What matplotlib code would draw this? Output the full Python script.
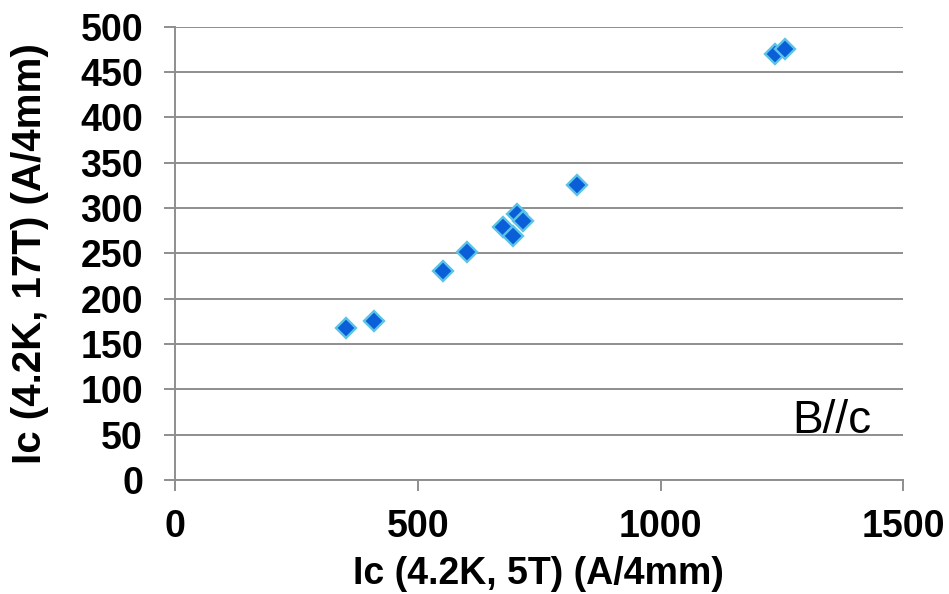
import matplotlib
matplotlib.use("Agg")
import matplotlib.pyplot as plt

# Critical current at 4.2 K: 5 T vs 17 T (B // c)
ic_5t = [352, 410, 552, 602, 675, 695, 705, 716, 827, 1235, 1257]
ic_17t = [168, 175, 230, 251, 279, 269, 293, 286, 325, 470, 475]

x_ticks = [0, 500, 1000, 1500]
y_ticks = list(range(0, 501, 50))

plt.rcParams["font.family"] = ["Liberation Sans", "DejaVu Sans"]

fig = plt.figure(figsize=(9.49, 5.94), dpi=100)
ax = fig.add_axes([175 / 949, 1 - 480 / 594, (903.5 - 175) / 949, (480 - 26.7) / 594])

grid_col = "#8e8e8e"
ax.set_xlim(0, 1500)
ax.set_ylim(0, 500)
ax.set_xticks(x_ticks)
ax.set_yticks(y_ticks)
ax.yaxis.grid(True, color=grid_col, linewidth=1.4)
ax.set_axisbelow(True)

for side in ("top", "right"):
    ax.spines[side].set_visible(False)
for side in ("left", "bottom"):
    ax.spines[side].set_color(grid_col)
    ax.spines[side].set_linewidth(1.4)

ax.tick_params(axis="both", direction="out", length=8, width=1.4, color=grid_col,
               labelsize=27)
ax.tick_params(axis="y", pad=15)
ax.tick_params(axis="x", pad=13)
for lab in ax.get_xticklabels() + ax.get_yticklabels():
    lab.set_fontweight("bold")

ax.plot(ic_5t, ic_17t, linestyle="none", marker="D", markersize=10.5,
        markerfacecolor="#0a5fd9", markeredgecolor="#5cc3e6", markeredgewidth=1.7,
        clip_on=False, zorder=3)

ax.text(1270, 52, "B//c", fontsize=33, color="black", ha="left", va="baseline")

fig.text(538 / 949, 1 - 574 / 594, "Ic (4.2K, 5T) (A/4mm)", fontsize=27,
         fontweight="bold", ha="center", va="center")
fig.text(30 / 949, 1 - 254 / 594, "Ic (4.2K, 17T) (A/4mm)", fontsize=29,
         fontweight="bold", ha="center", va="center", rotation=90)

fig.savefig("out.png", dpi=100)
